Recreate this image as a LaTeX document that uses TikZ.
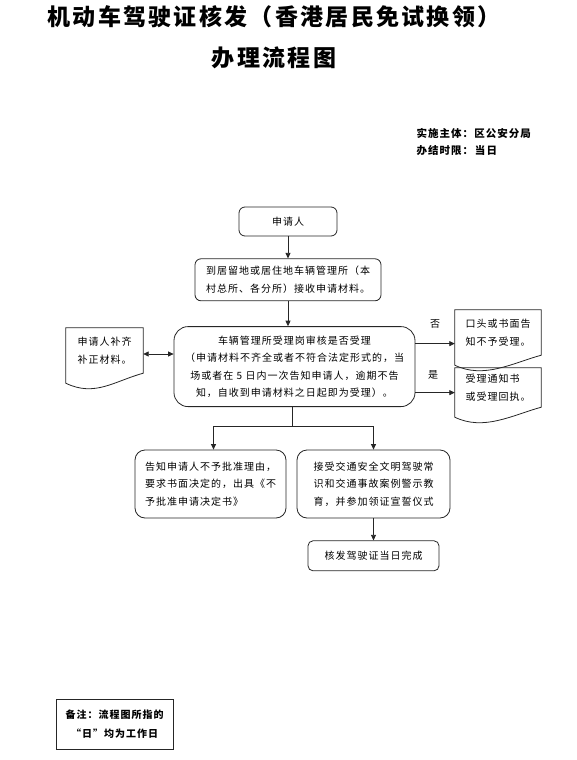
\documentclass[tikz,border=0pt]{standalone}
\usepackage{fontspec}
\setmainfont{Noto Sans CJK SC}[LetterSpace=10]
\usetikzlibrary{positioning,arrows.meta,calc}

\begin{document}
\begin{tikzpicture}[
  x=1pt, y=1pt,
  font=\fontsize{10}{17.5}\selectfont,
  box/.style={rectangle, rounded corners=#1, draw=black!85, line width=0.8pt,
              align=center, inner sep=3pt},
  box/.default=6pt,
  doc/.style={rectangle, align=left, inner sep=3pt},
  arrow/.style={-{Triangle[length=5.5pt,width=5pt]}, line width=0.8pt, draw=black!85},
  both/.style={{Triangle[length=5.5pt,width=5pt]}-{Triangle[length=5.5pt,width=5pt]},
               line width=0.8pt, draw=black!85},
  lbl/.style={font=\fontsize{10}{12}\selectfont},
  head/.style={font=\fontsize{10.5}{17}\selectfont\bfseries, align=left},
]
\useasboundingbox (0,0) rectangle (576,-760);

% ---- title and header ----
\node[font=\fontsize{23}{41}\selectfont\bfseries, align=center] (title) at (274,-37)
      {机动车驾驶证核发（香港居民免试换领）\\办理流程图};
\node[head, anchor=west] (org) at (413,-141.5) {实施主体：区公安分局\\办结时限：\,当日};

% ---- main column ----
\node[box, minimum width=98pt, minimum height=29pt] (apply) at (288,-221.5) {申请人};
\node[box, minimum width=186pt, minimum height=42pt] (recv) [below=22pt of apply]
      {到居留地或居住地车辆管理所（本\\村总所、各分所）接收申请材料。};
\node[box=14pt, minimum width=241pt, minimum height=80pt] (check) [below=25pt of recv, xshift=6.5pt]
      {车辆管理所受理岗审核是否受理\\（申请材料不齐全或者不符合法定形式的，当\\场或者在 5 日内一次告知申请人，逾期不告\\知，自收到申请材料之日起即为受理）。};

% ---- document boxes ----
\node[doc, align=center, minimum width=77pt, minimum height=45pt] (supp) at (104.5,-350.5)
      {申请人补齐\\补正材料。};
\node[doc, minimum width=86pt, minimum height=45pt] (reject) at (498,-332.5)
      {口头或书面告\\知不予受理。};
\node[doc, minimum width=86pt, minimum height=39pt] (accept) at (498,-387.5)
      {受理通知书\\或受理回执。};
\foreach \n in {supp,reject,accept}
  \draw[line width=0.8pt, draw=black!85] (\n.north west) -- (\n.north east) -- (\n.south east)
        .. controls +(-29pt,-8pt) and +(29pt,-14pt) .. ([yshift=-10pt]\n.south west) -- cycle;

% ---- lower boxes ----
\node[box=10pt, minimum width=151pt, minimum height=68pt, align=left] (deny) at (210.5,-484)
      {告知申请人不予批准理由，\\要求书面决定的，出具《不\\予批准申请决定书》};
\node[box=10pt, minimum width=153pt, minimum height=68pt, align=left] (edu) at (373.5,-484)
      {接受交通安全文明驾驶常\\识和交通事故案例警示教\\育，并参加领证宣誓仪式};
\node[box=5pt, minimum width=131pt, minimum height=30pt] (issue) [below=22pt of edu]
      {核发驾驶证当日完成};

% ---- note ----
\node[rectangle, draw=black!85, line width=0.8pt, minimum width=117pt, minimum height=50pt,
      align=center, font=\fontsize{10}{19}\selectfont\bfseries] (note) at (114.5,-724)
      {备注：流程图所指的\\“日”均为工作日};

% ---- connectors ----
\draw[arrow] (apply) -- (recv);
\draw[arrow] (recv) -- (recv |- check.north);
\draw[both] ([yshift=-3.5pt]supp.east) -- ([yshift=-3.5pt]supp.east -| check.west);
\draw[arrow] ([yshift=23pt]check.east) -- ([yshift=23pt]check.east -| reject.west);
\draw[arrow] ([yshift=-26pt]check.east) -- ([yshift=-26pt]check.east -| accept.west);
\node[lbl] (no)  at (435,-324) {否};
\node[lbl] (yes) at (433,-375) {是};

\coordinate (split) at ($(check.south)+(-2pt,-19)$);
\draw[line width=0.8pt, draw=black!85] (check.south -| split) -- (split);
\draw[arrow] (split) -| ([xshift=3pt]deny.north);
\draw[arrow] (split) -| (edu.north);
\draw[arrow] (edu) -- (issue);

\end{tikzpicture}
\end{document}
